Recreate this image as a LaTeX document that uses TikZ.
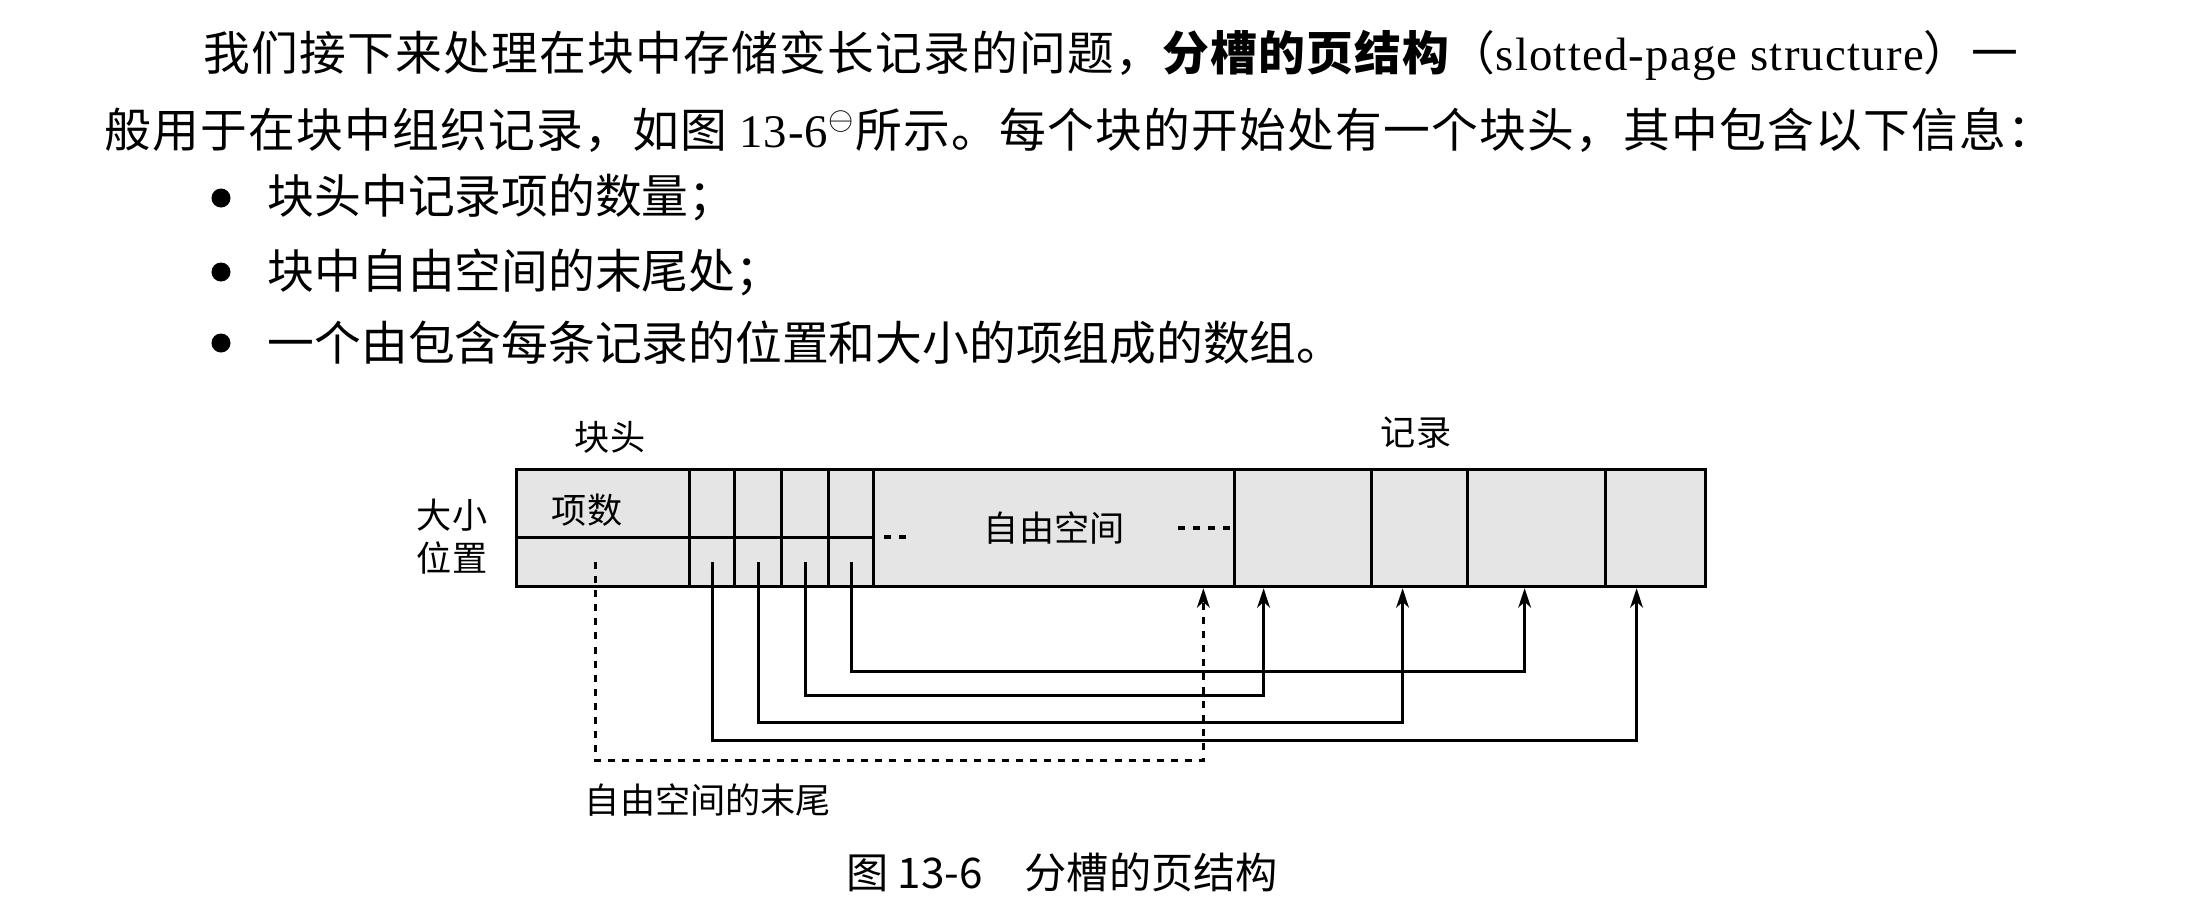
\documentclass[tikz,border=0pt]{standalone}
\usepackage{fontspec}
\setmainfont{Liberation Serif}
\newfontfamily\cjk{Noto Sans CJK SC}
\newfontfamily\cjkw{Noto Sans CJK SC}[LetterSpace=2.6]
\newfontfamily\latw{Liberation Serif}[LetterSpace=2.6]
\usetikzlibrary{arrows.meta}
\tikzset{
  cell/.style={draw, fill=black!10, line width=0.9pt, anchor=north west, inner sep=0pt, minimum height=1.17cm},
  toprow/.style={cell, minimum height=0.68cm},
  botrow/.style={cell, minimum height=0.49cm},
  lbl/.style={font=\cjk\fontsize{10pt}{12pt}\selectfont, inner sep=0pt},
  txt/.style={font=\cjk\fontsize{13.3pt}{16pt}\selectfont, anchor=west, inner sep=0pt},
  wide/.style={txt, font=\cjkw\fontsize{13.3pt}{16pt}\selectfont},
  dot/.style={circle, fill, inner sep=0pt, minimum size=0.19cm},
  ptr/.style={line width=0.8pt, -{Stealth[length=5.5pt, width=3.6pt, inset=1.6pt]}},
  ptrd/.style={ptr, dash pattern=on 2pt off 2pt},
}
\begin{document}
\begin{tikzpicture}[x=0.01cm, y=-0.01cm]
  \useasboundingbox (0, 0) rectangle (2196, 923);
  \node [wide] (l1) at (203, 55) {我们接下来处理在块中存储变长记录的问题，{\bfseries 分槽的页结构}（{\latw slotted-page structure}）一};
  \node [wide] (l2) at (104, 130) {般用于在块中组织记录，如图 {\latw 13-6}\textsuperscript{$\ominus$}所示。每个块的开始处有一个块头，其中包含以下信息：};
  \node [dot] (b1) at (221, 198) {};
  \node [txt] (t1) at (267, 198) {块头中记录项的数量；};
  \node [dot] (b2) at (221, 272) {};
  \node [txt] (t2) at (267, 272) {块中自由空间的末尾处；};
  \node [dot] (b3) at (221, 343) {};
  \node [txt] (t3) at (267, 343) {一个由包含每条记录的位置和大小的项组成的数组。};

  \node [toprow, minimum width=1.73cm] (hd) at (515, 468) {};
  \node [botrow, minimum width=1.73cm] (hp) at (515, 536) {};
  \node [toprow, minimum width=0.45cm] (s1) at (688, 468) {};
  \node [botrow, minimum width=0.45cm] (p1) at (688, 536) {};
  \node [toprow, minimum width=0.47cm] (s2) at (733, 468) {};
  \node [botrow, minimum width=0.47cm] (p2) at (733, 536) {};
  \node [toprow, minimum width=0.47cm] (s3) at (780, 468) {};
  \node [botrow, minimum width=0.47cm] (p3) at (780, 536) {};
  \node [toprow, minimum width=0.45cm] (s4) at (827, 468) {};
  \node [botrow, minimum width=0.45cm] (p4) at (827, 536) {};
  \node [cell, minimum width=3.61cm, font=\cjk\fontsize{10pt}{12pt}\selectfont] (fs) at (872, 468) {自由空间};
  \node [cell, minimum width=1.37cm] (r1) at (1233, 468) {};
  \node [cell, minimum width=0.96cm] (r2) at (1370, 468) {};
  \node [cell, minimum width=1.38cm] (r3) at (1466, 468) {};
  \node [cell, minimum width=1.00cm] (r4) at (1604, 468) {};

  \node [lbl] (kt) at (610, 437) {块头};
  \node [lbl] (jl) at (1416, 433) {记录};
  \node [lbl] (dx) at (452, 515) {大小};
  \node [lbl] (wz) at (452, 558) {位置};
  \node [lbl] (xs) at (587, 510) {项数};
  \draw [line width=0.9pt, dash pattern=on 2pt off 2.3pt] (884, 537) -- (906, 537);
  \draw [line width=0.9pt, dash pattern=on 2pt off 2.3pt] (1178, 528) -- (1231, 528);

  \draw [ptr] (p1.center) -- ++(0, 178) -| ([xshift=-0.19cm] r4.south);
  \draw [ptr] (p2.center) -- ++(0, 160) -| ([xshift=-0.17cm] r2.south);
  \draw [ptr] (p3.center) -- ++(0, 133) -| ([xshift=-0.395cm] r1.south);
  \draw [ptr] (p4.center) -- ++(0, 109) -| ([xshift=-0.12cm] r3.south);
  \draw [ptrd] ([xshift=-0.08cm] hp.center) -- ++(0, 198) -| ([xshift=-0.33cm] fs.south east);
  \node [lbl] (mw) at (708, 800) {自由空间的末尾};

  \node [font=\cjk\fontsize{12pt}{14pt}\selectfont, inner sep=0pt] (cap) at (1062, 872) {图 13-6\hspace{1em}分槽的页结构};
\end{tikzpicture}
\end{document}
